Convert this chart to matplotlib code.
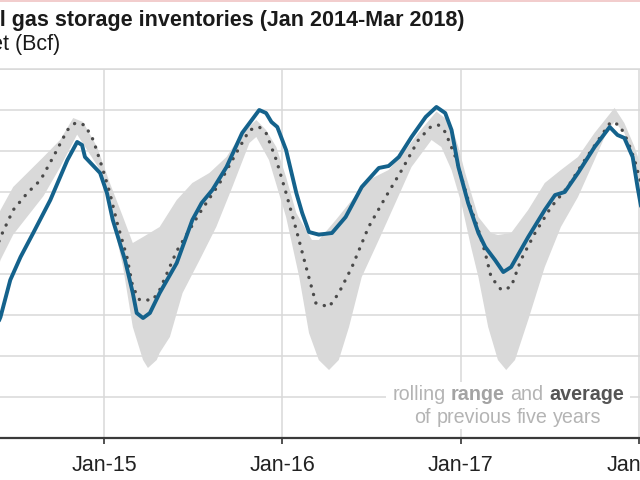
import matplotlib
matplotlib.use('Agg')
import matplotlib.pyplot as plt
import pandas as pd
from matplotlib.patches import Rectangle
from matplotlib.lines import Line2D

plt.rcParams['font.family'] = ['Liberation Sans', 'DejaVu Sans']

# ---------------- data (Bcf) ----------------
storage_dates = ['2014-01-03', '2014-02-01', '2014-03-01', '2014-03-28', '2014-05-01', '2014-06-03',
                 '2014-06-23', '2014-07-14', '2014-08-09', '2014-09-13', '2014-10-18', '2014-11-07',
                 '2014-11-17', '2014-11-23', '2014-12-24', '2015-01-07', '2015-01-19', '2015-02-13',
                 '2015-03-01', '2015-03-09', '2015-03-22', '2015-04-05', '2015-04-25', '2015-05-30',
                 '2015-07-01', '2015-07-20', '2015-08-11', '2015-09-09', '2015-10-11', '2015-11-15',
                 '2015-11-29', '2015-12-10', '2015-12-22', '2016-01-09', '2016-01-30', '2016-02-11',
                 '2016-02-25', '2016-03-16', '2016-04-12', '2016-05-10', '2016-06-12', '2016-07-17',
                 '2016-08-06', '2016-08-27', '2016-09-22', '2016-10-21', '2016-11-12', '2016-11-30',
                 '2016-12-13', '2016-12-27', '2017-01-16', '2017-02-06', '2017-02-20', '2017-03-12',
                 '2017-03-29', '2017-04-14', '2017-05-19', '2017-06-22', '2017-07-13', '2017-08-02',
                 '2017-08-29', '2017-10-02', '2017-11-02', '2017-11-18', '2017-12-02', '2017-12-19',
                 '2017-12-29', '2018-01-12', '2018-02-01', '2018-03-01', '2018-03-30']
storage_vals = [2974, 2300, 1400, 822, 1000, 1476,
                1927, 2207, 2500, 2902, 3390, 3610,
                3573, 3427, 3232, 2988, 2659, 2171,
                1768, 1524, 1463, 1524, 1768, 2134,
                2659, 2866, 3025, 3305, 3720, 4000,
                3963, 3854, 3793, 3512, 2988, 2744,
                2512, 2480, 2500, 2695, 3061, 3293,
                3317, 3427, 3671, 3915, 4037, 3963,
                3756, 3305, 2866, 2500, 2329, 2171,
                2024, 2085, 2451, 2781, 2963, 3000,
                3232, 3549, 3793, 3695, 3659, 3427,
                3061, 2600, 2100, 1650, 1350]

avg_dates = ['2014-01-03', '2014-02-01', '2014-03-01', '2014-03-28', '2014-05-01', '2014-06-03',
             '2014-06-29', '2014-07-28', '2014-08-24', '2014-09-19', '2014-10-18', '2014-11-03',
             '2014-11-23', '2014-12-10', '2014-12-30', '2015-01-13', '2015-01-28', '2015-02-17',
             '2015-03-01', '2015-03-15', '2015-04-11', '2015-04-25', '2015-05-30', '2015-07-16',
             '2015-08-26', '2015-09-29', '2015-10-26', '2015-11-15', '2015-11-29', '2015-12-20',
             '2016-01-09', '2016-01-30', '2016-02-19', '2016-03-10', '2016-04-06', '2016-04-26',
             '2016-05-23', '2016-06-26', '2016-07-31', '2016-09-02', '2016-10-06', '2016-10-31',
             '2016-11-16', '2016-11-30', '2016-12-21', '2017-01-16', '2017-02-06', '2017-02-20',
             '2017-03-04', '2017-03-25', '2017-04-14', '2017-05-04', '2017-06-02', '2017-07-05',
             '2017-08-08', '2017-09-12', '2017-10-14', '2017-11-04', '2017-11-22', '2017-12-08',
             '2017-12-23', '2018-01-12', '2018-02-01', '2018-03-01', '2018-03-30']
avg_vals = [3100, 2500, 1950, 1700, 1900, 2451,
            2781, 2988, 3146, 3427, 3756, 3841,
            3817, 3634, 3268, 2988, 2622, 2207,
            1841, 1683, 1683, 1805, 2280, 2744,
            3110, 3476, 3756, 3793, 3720, 3390,
            2988, 2537, 2085, 1646, 1598, 1768,
            2085, 2573, 2939, 3268, 3634, 3793,
            3817, 3732, 3427, 2902, 2537, 2256,
            1963, 1805, 1841, 2171, 2500, 2817,
            3061, 3390, 3671, 3854, 3817, 3634,
            3390, 2950, 2500, 2000, 1650]

max_dates = ['2014-01-03', '2014-03-28', '2014-05-01', '2014-06-03', '2014-06-29', '2014-07-28',
             '2014-08-30', '2014-10-03', '2014-10-30', '2014-11-19', '2014-12-18', '2015-01-13',
             '2015-02-09', '2015-03-01', '2015-03-22', '2015-04-25', '2015-05-30', '2015-07-01',
             '2015-08-05', '2015-09-09', '2015-10-11', '2015-11-09', '2015-11-29', '2015-12-20',
             '2016-01-09', '2016-01-30', '2016-03-02', '2016-03-16', '2016-04-20', '2016-05-23',
             '2016-06-26', '2016-08-06', '2016-09-10', '2016-10-06', '2016-11-12', '2016-11-30',
             '2016-12-13', '2016-12-27', '2017-01-10', '2017-02-06', '2017-03-04', '2017-03-18',
             '2017-04-14', '2017-05-19', '2017-06-22', '2017-07-25', '2017-08-29', '2017-10-02',
             '2017-11-12', '2017-12-02', '2017-12-23', '2018-01-12', '2018-02-01', '2018-03-01',
             '2018-03-30']
max_vals = [3500, 2100, 2300, 2780, 3061, 3232,
            3427, 3634, 3902, 3854, 3549, 3110,
            2695, 2378, 2451, 2573, 2902, 3110,
            3232, 3427, 3720, 3878, 3756, 3549,
            3183, 2744, 2415, 2415, 2659, 2902,
            3146, 3268, 3512, 3720, 3980, 3900,
            3800, 3550, 3232, 2695, 2500, 2476,
            2500, 2781, 3110, 3268, 3427, 3720,
            4025, 3841, 3549, 3200, 2800, 2400,
            2100]

min_dates = ['2014-01-03', '2014-03-28', '2014-05-01', '2014-06-03', '2014-06-29', '2014-07-28',
             '2014-08-30', '2014-10-03', '2014-11-07', '2014-12-24', '2015-01-13', '2015-02-09',
             '2015-03-01', '2015-03-22', '2015-04-01', '2015-04-19', '2015-04-25', '2015-05-16',
             '2015-06-11', '2015-07-16', '2015-08-19', '2015-09-21', '2015-10-26', '2015-11-09',
             '2015-12-05', '2016-01-09', '2016-02-05', '2016-02-25', '2016-03-16', '2016-04-06',
             '2016-04-26', '2016-05-17', '2016-06-12', '2016-07-17', '2016-08-20', '2016-09-22',
             '2016-11-02', '2016-11-22', '2016-12-13', '2017-01-02', '2017-01-22', '2017-02-06',
             '2017-02-26', '2017-03-18', '2017-04-04', '2017-04-22', '2017-05-19', '2017-06-22',
             '2017-07-25', '2017-08-29', '2017-10-02', '2017-10-29', '2017-11-12', '2017-12-02',
             '2017-12-23', '2018-01-12', '2018-02-01', '2018-03-01', '2018-03-30']
min_vals = [2700, 1200, 1500, 2171, 2480, 2700,
            2950, 3300, 3700, 3268, 2817, 2085,
            1354, 951, 854, 951, 1037, 1232,
            1768, 2171, 2573, 3061, 3598, 3671,
            3390, 2695, 1963, 1280, 951, 829,
            951, 1354, 1963, 2415, 2866, 3305,
            3634, 3549, 3268, 2866, 2329, 1963,
            1354, 951, 829, 951, 1439, 2085,
            2573, 2939, 3390, 3756, 3854, 3720,
            3390, 2700, 1900, 1300, 900]

tick_dates = ['2015-01-01', '2016-01-01', '2017-01-01', '2018-01-01']
tick_labels = ['Jan-15', 'Jan-16', 'Jan-17', 'Jan-18']
y_grid = [0, 500, 1000, 1500, 2000, 2500, 3000, 3500, 4000, 4500]

title_full = 'Working natural gas storage inventories (Jan 2014-Mar 2018)'
subtitle_full = 'billion cubic feet (Bcf)'

# ---------------- figure ----------------
W, H = 640, 480
fig = plt.figure(figsize=(6.4, 4.8), dpi=100)
fig.patch.set_facecolor('white')

x_start = pd.Timestamp('2014-01-01')
x_end = pd.Timestamp('2018-04-01')
ax = fig.add_axes([-74.17 / W, 42 / H, 757.1 / W, 369 / H])
ax.set_xlim(x_start, x_end)
ax.set_ylim(y_grid[0], y_grid[-1])

grid_c = '#d9d9d9'
ax.set_axisbelow(True)
ax.set_yticks(y_grid)
ax.set_xticks(pd.to_datetime(tick_dates))
ax.set_xticklabels(tick_labels)
ax.grid(True, color=grid_c, lw=1.1)
ax.tick_params(axis='y', left=False, labelleft=False)
ax.tick_params(axis='x', direction='out', length=4, width=1.2, color='#333333',
               labelsize=15.5, labelcolor='#222222', pad=8.5)
for s in ['left', 'right']:
    ax.spines[s].set_visible(False)
ax.spines['top'].set_color(grid_c)
ax.spines['top'].set_linewidth(1.1)
ax.spines['bottom'].set_color('#3a3a3a')
ax.spines['bottom'].set_linewidth(1.6)

# range band
up_d = pd.to_datetime(max_dates)
lo_d = pd.to_datetime(min_dates)
ax.fill(list(up_d) + list(lo_d[::-1]), list(max_vals) + list(min_vals[::-1]),
        color='#d9d9d9', lw=0, zorder=1)

ax.plot(pd.to_datetime(avg_dates), avg_vals, color='#4a4a4a', lw=2.4,
        linestyle=(0, (0.05, 2.6)), dash_capstyle='round', zorder=2)
ax.plot(pd.to_datetime(storage_dates), storage_vals, color='#14628c', lw=2.8,
        solid_joinstyle='round', solid_capstyle='round', zorder=3)

# titles (cropped on the left like the reference)
fig.text(465 / W, 1 - 26 / H, title_full, ha='right', va='baseline',
         fontsize=15.5, fontweight='bold', color='#1a1a1a')
fig.text(60 / W, 1 - 50 / H, subtitle_full, ha='right', va='baseline',
         fontsize=15.5, color='#1a1a1a')

# thin pink frame line at the top
fig.add_artist(Line2D([0, 1], [1 - 0.8 / H, 1 - 0.8 / H], transform=fig.transFigure,
                      color='#f0c4c4', lw=1.2))

# annotation with mixed styles
fs_note = 14.2
light = '#b4b4b4'
lines = [
    ([('rolling', 'normal', light), ('range', 'bold', '#a3a3a3'), ('and', 'normal', light),
      ('average', 'bold', '#555555')], 400),
    ([('of', 'normal', light), ('previous', 'normal', light), ('five', 'normal', light),
      ('years', 'normal', light)], 423),
]
cx = 508
space = fs_note * 0.278 * fig.dpi / 72
all_objs = []
line_objs = []
for pieces, base in lines:
    objs = [fig.text(0, 1 - base / H, s, fontsize=fs_note, fontweight=w, color=c,
                     va='baseline', ha='left', zorder=5) for s, w, c in pieces]
    line_objs.append(objs)
    all_objs += objs
fig.canvas.draw()
r = fig.canvas.get_renderer()
for (pieces, base), objs in zip(lines, line_objs):
    widths = [t.get_window_extent(r).width for t in objs]
    total = sum(widths) + space * (len(objs) - 1)
    x = cx - total / 2
    for t, wd in zip(objs, widths):
        t.set_position((x / W, 1 - base / H))
        x += wd + space
fig.canvas.draw()
bbs = [t.get_window_extent(r) for t in all_objs]
x0 = min(b.x0 for b in bbs) - 6
x1 = max(b.x1 for b in bbs) + 6
y0 = min(b.y0 for b in bbs) - 2
y1 = max(b.y1 for b in bbs) + 3
fig.add_artist(Rectangle((x0 / W, y0 / H), (x1 - x0) / W, (y1 - y0) / H,
                         transform=fig.transFigure, fc='white', ec='none', zorder=4))

fig.savefig('out.png', dpi=100)
